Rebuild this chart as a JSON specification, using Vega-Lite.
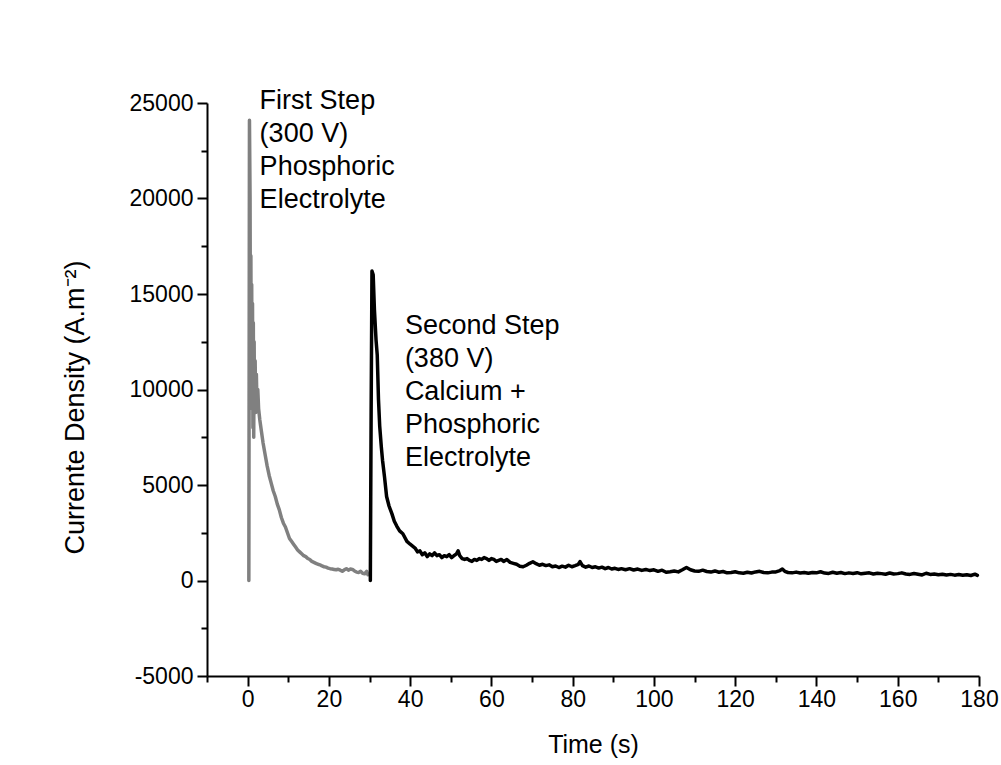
{
  "$schema": "https://vega.github.io/schema/vega-lite/v6.json",
  "autosize": "none",
  "width": 772,
  "height": 573,
  "padding": {"left": 207, "top": 103, "right": 22, "bottom": 89},
  "background": "white",
  "config": {
    "view": {"stroke": null},
    "font": "Liberation Sans",
    "axis": {
      "grid": false,
      "domainColor": "black",
      "domainWidth": 2,
      "tickColor": "black",
      "tickWidth": 2,
      "labelColor": "black",
      "labelFont": "Liberation Sans",
      "titleFont": "Liberation Sans",
      "titleColor": "black",
      "titleFontWeight": "normal"
    }
  },
  "datasets": {
    "curves": [
      {"t": 0.3, "j": 0, "step": "first"},
      {"t": 0.45, "j": 24100, "step": "first"},
      {"t": 0.6, "j": 20000, "step": "first"},
      {"t": 0.7, "j": 12000, "step": "first"},
      {"t": 0.8, "j": 17000, "step": "first"},
      {"t": 0.9, "j": 10500, "step": "first"},
      {"t": 1.0, "j": 15500, "step": "first"},
      {"t": 1.1, "j": 9000, "step": "first"},
      {"t": 1.2, "j": 14500, "step": "first"},
      {"t": 1.3, "j": 8000, "step": "first"},
      {"t": 1.4, "j": 13500, "step": "first"},
      {"t": 1.5, "j": 7500, "step": "first"},
      {"t": 1.6, "j": 12500, "step": "first"},
      {"t": 1.7, "j": 9000, "step": "first"},
      {"t": 1.85, "j": 11500, "step": "first"},
      {"t": 2.0, "j": 8800, "step": "first"},
      {"t": 2.15, "j": 10800, "step": "first"},
      {"t": 2.3, "j": 9200, "step": "first"},
      {"t": 2.5, "j": 10000, "step": "first"},
      {"t": 2.7, "j": 9000, "step": "first"},
      {"t": 3.0, "j": 8400, "step": "first"},
      {"t": 3.4, "j": 7800, "step": "first"},
      {"t": 3.8, "j": 7200, "step": "first"},
      {"t": 4.3, "j": 6600, "step": "first"},
      {"t": 4.8, "j": 6000, "step": "first"},
      {"t": 5.3, "j": 5500, "step": "first"},
      {"t": 5.8, "j": 5100, "step": "first"},
      {"t": 6.3, "j": 4700, "step": "first"},
      {"t": 6.8, "j": 4400, "step": "first"},
      {"t": 7.3, "j": 4000, "step": "first"},
      {"t": 7.8, "j": 3700, "step": "first"},
      {"t": 8.3, "j": 3300, "step": "first"},
      {"t": 8.8, "j": 3000, "step": "first"},
      {"t": 9.3, "j": 2800, "step": "first"},
      {"t": 9.8, "j": 2500, "step": "first"},
      {"t": 10.3, "j": 2200, "step": "first"},
      {"t": 10.8, "j": 2050, "step": "first"},
      {"t": 11.3, "j": 1900, "step": "first"},
      {"t": 11.8, "j": 1750, "step": "first"},
      {"t": 12.3, "j": 1600, "step": "first"},
      {"t": 12.8, "j": 1500, "step": "first"},
      {"t": 13.3, "j": 1400, "step": "first"},
      {"t": 13.8, "j": 1300, "step": "first"},
      {"t": 14.3, "j": 1250, "step": "first"},
      {"t": 14.8, "j": 1150, "step": "first"},
      {"t": 15.3, "j": 1100, "step": "first"},
      {"t": 15.8, "j": 1000, "step": "first"},
      {"t": 16.3, "j": 950, "step": "first"},
      {"t": 16.8, "j": 900, "step": "first"},
      {"t": 17.3, "j": 850, "step": "first"},
      {"t": 17.8, "j": 820, "step": "first"},
      {"t": 18.3, "j": 760, "step": "first"},
      {"t": 18.8, "j": 720, "step": "first"},
      {"t": 19.3, "j": 700, "step": "first"},
      {"t": 19.8, "j": 650, "step": "first"},
      {"t": 20.3, "j": 620, "step": "first"},
      {"t": 20.8, "j": 600, "step": "first"},
      {"t": 21.3, "j": 580, "step": "first"},
      {"t": 21.8, "j": 560, "step": "first"},
      {"t": 22.3, "j": 590, "step": "first"},
      {"t": 22.8, "j": 540, "step": "first"},
      {"t": 23.3, "j": 480, "step": "first"},
      {"t": 23.8, "j": 560, "step": "first"},
      {"t": 24.3, "j": 620, "step": "first"},
      {"t": 24.8, "j": 540, "step": "first"},
      {"t": 25.3, "j": 600, "step": "first"},
      {"t": 25.8, "j": 580, "step": "first"},
      {"t": 26.3, "j": 500, "step": "first"},
      {"t": 26.8, "j": 440, "step": "first"},
      {"t": 27.3, "j": 420, "step": "first"},
      {"t": 27.8, "j": 480, "step": "first"},
      {"t": 28.3, "j": 380, "step": "first"},
      {"t": 28.8, "j": 350, "step": "first"},
      {"t": 29.3, "j": 480, "step": "first"},
      {"t": 29.6, "j": 300, "step": "first"},
      {"t": 30.2, "j": 0, "step": "second"},
      {"t": 30.4, "j": 9000, "step": "second"},
      {"t": 30.6, "j": 16200, "step": "second"},
      {"t": 30.9, "j": 16000, "step": "second"},
      {"t": 31.2, "j": 14200, "step": "second"},
      {"t": 31.6, "j": 12600, "step": "second"},
      {"t": 31.9, "j": 11800, "step": "second"},
      {"t": 32.2, "j": 9500, "step": "second"},
      {"t": 32.5, "j": 8100, "step": "second"},
      {"t": 32.9, "j": 7000, "step": "second"},
      {"t": 33.2, "j": 6300, "step": "second"},
      {"t": 33.7, "j": 5400, "step": "second"},
      {"t": 34.2, "j": 4400, "step": "second"},
      {"t": 34.8, "j": 3900, "step": "second"},
      {"t": 35.5, "j": 3500, "step": "second"},
      {"t": 36.1, "j": 3100, "step": "second"},
      {"t": 36.7, "j": 2850, "step": "second"},
      {"t": 37.4, "j": 2600, "step": "second"},
      {"t": 38.2, "j": 2450, "step": "second"},
      {"t": 39.2, "j": 2050, "step": "second"},
      {"t": 40.0, "j": 1900, "step": "second"},
      {"t": 40.6, "j": 1800, "step": "second"},
      {"t": 41.2, "j": 1700, "step": "second"},
      {"t": 41.8, "j": 1500, "step": "second"},
      {"t": 42.4, "j": 1550, "step": "second"},
      {"t": 43.0, "j": 1350, "step": "second"},
      {"t": 43.6, "j": 1450, "step": "second"},
      {"t": 44.2, "j": 1250, "step": "second"},
      {"t": 44.8, "j": 1400, "step": "second"},
      {"t": 45.4, "j": 1300, "step": "second"},
      {"t": 46.0, "j": 1450, "step": "second"},
      {"t": 46.6, "j": 1300, "step": "second"},
      {"t": 47.2, "j": 1350, "step": "second"},
      {"t": 47.8, "j": 1200, "step": "second"},
      {"t": 48.4, "j": 1300, "step": "second"},
      {"t": 49.0, "j": 1250, "step": "second"},
      {"t": 49.6, "j": 1350, "step": "second"},
      {"t": 50.2, "j": 1200, "step": "second"},
      {"t": 50.8, "j": 1300, "step": "second"},
      {"t": 51.4, "j": 1400, "step": "second"},
      {"t": 51.8, "j": 1550, "step": "second"},
      {"t": 52.2, "j": 1300, "step": "second"},
      {"t": 52.8, "j": 1150, "step": "second"},
      {"t": 53.4, "j": 1100, "step": "second"},
      {"t": 54.0, "j": 1150, "step": "second"},
      {"t": 54.6, "j": 1050, "step": "second"},
      {"t": 55.2, "j": 1000, "step": "second"},
      {"t": 55.8, "j": 1100, "step": "second"},
      {"t": 56.4, "j": 1050, "step": "second"},
      {"t": 57.0, "j": 1150, "step": "second"},
      {"t": 57.6, "j": 1100, "step": "second"},
      {"t": 58.2, "j": 1200, "step": "second"},
      {"t": 58.8, "j": 1150, "step": "second"},
      {"t": 59.4, "j": 1050, "step": "second"},
      {"t": 60.0, "j": 1150, "step": "second"},
      {"t": 60.6, "j": 1100, "step": "second"},
      {"t": 61.2, "j": 1000, "step": "second"},
      {"t": 61.8, "j": 1050, "step": "second"},
      {"t": 62.4, "j": 1100, "step": "second"},
      {"t": 63.0, "j": 1000, "step": "second"},
      {"t": 63.8, "j": 1100, "step": "second"},
      {"t": 64.6, "j": 950, "step": "second"},
      {"t": 65.4, "j": 900, "step": "second"},
      {"t": 66.2, "j": 850, "step": "second"},
      {"t": 67.0, "j": 750, "step": "second"},
      {"t": 67.8, "j": 720, "step": "second"},
      {"t": 68.6, "j": 800, "step": "second"},
      {"t": 69.4, "j": 900, "step": "second"},
      {"t": 70.2, "j": 980, "step": "second"},
      {"t": 71.0, "j": 880, "step": "second"},
      {"t": 71.8, "j": 800, "step": "second"},
      {"t": 72.6, "j": 850, "step": "second"},
      {"t": 73.4, "j": 780, "step": "second"},
      {"t": 74.2, "j": 820, "step": "second"},
      {"t": 75.0, "j": 720, "step": "second"},
      {"t": 75.8, "j": 760, "step": "second"},
      {"t": 76.6, "j": 680, "step": "second"},
      {"t": 77.4, "j": 750, "step": "second"},
      {"t": 78.2, "j": 700, "step": "second"},
      {"t": 79.0, "j": 800, "step": "second"},
      {"t": 79.8, "j": 720, "step": "second"},
      {"t": 80.6, "j": 780, "step": "second"},
      {"t": 81.4, "j": 850, "step": "second"},
      {"t": 81.8, "j": 990, "step": "second"},
      {"t": 82.4, "j": 780, "step": "second"},
      {"t": 83.2, "j": 700, "step": "second"},
      {"t": 84.0, "j": 760, "step": "second"},
      {"t": 84.8, "j": 680, "step": "second"},
      {"t": 85.6, "j": 720, "step": "second"},
      {"t": 86.4, "j": 650, "step": "second"},
      {"t": 87.2, "j": 700, "step": "second"},
      {"t": 88.0, "j": 620, "step": "second"},
      {"t": 88.8, "j": 680, "step": "second"},
      {"t": 89.6, "j": 600, "step": "second"},
      {"t": 90.4, "j": 640, "step": "second"},
      {"t": 91.2, "j": 580, "step": "second"},
      {"t": 92.0, "j": 620, "step": "second"},
      {"t": 93.0, "j": 560, "step": "second"},
      {"t": 94.0, "j": 620, "step": "second"},
      {"t": 95.0, "j": 550, "step": "second"},
      {"t": 96.0, "j": 600, "step": "second"},
      {"t": 97.0, "j": 530, "step": "second"},
      {"t": 98.0, "j": 580, "step": "second"},
      {"t": 99.0, "j": 520, "step": "second"},
      {"t": 100.0, "j": 560, "step": "second"},
      {"t": 101.0, "j": 480, "step": "second"},
      {"t": 102.0, "j": 540, "step": "second"},
      {"t": 103.0, "j": 430, "step": "second"},
      {"t": 104.0, "j": 460, "step": "second"},
      {"t": 105.0, "j": 500, "step": "second"},
      {"t": 106.0, "j": 450, "step": "second"},
      {"t": 107.0, "j": 560, "step": "second"},
      {"t": 108.0, "j": 680, "step": "second"},
      {"t": 109.0, "j": 560, "step": "second"},
      {"t": 110.0, "j": 500, "step": "second"},
      {"t": 111.0, "j": 480, "step": "second"},
      {"t": 112.0, "j": 540, "step": "second"},
      {"t": 113.0, "j": 470, "step": "second"},
      {"t": 114.0, "j": 440, "step": "second"},
      {"t": 115.0, "j": 500, "step": "second"},
      {"t": 116.0, "j": 430, "step": "second"},
      {"t": 117.0, "j": 470, "step": "second"},
      {"t": 118.0, "j": 400, "step": "second"},
      {"t": 119.0, "j": 420, "step": "second"},
      {"t": 120.0, "j": 460, "step": "second"},
      {"t": 121.0, "j": 400, "step": "second"},
      {"t": 122.0, "j": 380, "step": "second"},
      {"t": 123.0, "j": 430, "step": "second"},
      {"t": 124.0, "j": 390, "step": "second"},
      {"t": 125.0, "j": 450, "step": "second"},
      {"t": 126.0, "j": 480, "step": "second"},
      {"t": 127.0, "j": 420, "step": "second"},
      {"t": 128.0, "j": 400, "step": "second"},
      {"t": 129.0, "j": 440, "step": "second"},
      {"t": 130.0, "j": 450, "step": "second"},
      {"t": 131.0, "j": 520, "step": "second"},
      {"t": 131.6, "j": 600, "step": "second"},
      {"t": 132.2, "j": 480, "step": "second"},
      {"t": 133.0, "j": 420, "step": "second"},
      {"t": 134.0, "j": 400, "step": "second"},
      {"t": 135.0, "j": 440, "step": "second"},
      {"t": 136.0, "j": 390, "step": "second"},
      {"t": 137.0, "j": 420, "step": "second"},
      {"t": 138.0, "j": 380, "step": "second"},
      {"t": 139.0, "j": 420, "step": "second"},
      {"t": 140.0, "j": 400, "step": "second"},
      {"t": 141.0, "j": 460, "step": "second"},
      {"t": 142.0, "j": 390, "step": "second"},
      {"t": 143.0, "j": 370, "step": "second"},
      {"t": 144.0, "j": 430, "step": "second"},
      {"t": 145.0, "j": 380, "step": "second"},
      {"t": 146.0, "j": 420, "step": "second"},
      {"t": 147.0, "j": 360, "step": "second"},
      {"t": 148.0, "j": 400, "step": "second"},
      {"t": 149.0, "j": 370, "step": "second"},
      {"t": 150.0, "j": 410, "step": "second"},
      {"t": 151.0, "j": 350, "step": "second"},
      {"t": 152.0, "j": 380, "step": "second"},
      {"t": 153.0, "j": 400, "step": "second"},
      {"t": 154.0, "j": 340, "step": "second"},
      {"t": 155.0, "j": 380, "step": "second"},
      {"t": 156.0, "j": 360, "step": "second"},
      {"t": 157.0, "j": 330, "step": "second"},
      {"t": 158.0, "j": 390, "step": "second"},
      {"t": 159.0, "j": 340, "step": "second"},
      {"t": 160.0, "j": 360, "step": "second"},
      {"t": 161.0, "j": 400, "step": "second"},
      {"t": 162.0, "j": 340, "step": "second"},
      {"t": 163.0, "j": 320, "step": "second"},
      {"t": 164.0, "j": 370, "step": "second"},
      {"t": 165.0, "j": 330, "step": "second"},
      {"t": 166.0, "j": 290, "step": "second"},
      {"t": 167.0, "j": 380, "step": "second"},
      {"t": 168.0, "j": 320, "step": "second"},
      {"t": 169.0, "j": 340, "step": "second"},
      {"t": 170.0, "j": 300, "step": "second"},
      {"t": 171.0, "j": 330, "step": "second"},
      {"t": 172.0, "j": 290, "step": "second"},
      {"t": 173.0, "j": 320, "step": "second"},
      {"t": 174.0, "j": 280, "step": "second"},
      {"t": 175.0, "j": 310, "step": "second"},
      {"t": 176.0, "j": 270, "step": "second"},
      {"t": 177.0, "j": 300, "step": "second"},
      {"t": 178.0, "j": 260, "step": "second"},
      {"t": 179.0, "j": 330, "step": "second"},
      {"t": 179.6, "j": 270, "step": "second"}
    ],
    "notes": [
      {"t": 2.95, "j": 24700, "label": "First Step\n(300 V)\nPhosphoric\nElectrolyte"},
      {"t": 38.7, "j": 12900, "label": "Second Step\n(380 V)\nCalcium +\nPhosphoric\nElectrolyte"}
    ]
  },
  "resolve": {"axis": {"x": "independent", "y": "independent"}},
  "layer": [
    {
      "data": {"name": "curves"},
      "mark": {"type": "line", "strokeWidth": 3.5, "strokeJoin": "round", "strokeCap": "round"},
      "encoding": {
        "x": {
          "field": "t", "type": "quantitative",
          "scale": {"domain": [-10, 180], "nice": false, "zero": false},
          "axis": {
            "orient": "bottom",
            "title": "Time (s)",
            "values": [0, 20, 40, 60, 80, 100, 120, 140, 160, 180],
            "labelExpr": "'' + datum.value",
            "tickSize": 10,
            "labelFontSize": 23,
            "labelPadding": 2,
            "labelFlush": false,
            "titleFontSize": 25,
            "titlePadding": 21
          }
        },
        "y": {
          "field": "j", "type": "quantitative",
          "scale": {"domain": [-5000, 25000], "nice": false, "zero": false},
          "axis": {
            "orient": "left",
            "title": "Currente Density (A.m⁻²)",
            "values": [-5000, 0, 5000, 10000, 15000, 20000, 25000],
            "labelExpr": "'' + datum.value",
            "tickSize": 10,
            "labelFontSize": 23,
            "labelPadding": 4,
            "labelFlush": false,
            "titleFontSize": 27,
            "titleX": -124,
            "titleY": 304,
            "titleBaseline": "alphabetic"
          }
        },
        "color": {
          "field": "step", "type": "nominal",
          "scale": {"domain": ["first", "second"], "range": ["#808080", "#000000"]},
          "legend": null
        }
      }
    },
    {
      "data": {"name": "notes"},
      "mark": {"type": "text", "align": "left", "baseline": "alphabetic", "lineBreak": "\n", "lineHeight": 33, "fontSize": 27, "font": "Liberation Sans", "color": "black"},
      "encoding": {
        "x": {
          "field": "t", "type": "quantitative",
          "axis": {
            "orient": "bottom", "title": null, "labels": false, "domain": false,
            "values": [-10, 10, 30, 50, 70, 90, 110, 130, 150, 170],
            "tickSize": 6
          }
        },
        "y": {
          "field": "j", "type": "quantitative",
          "axis": {
            "orient": "left", "title": null, "labels": false, "domain": false,
            "values": [-2500, 2500, 7500, 12500, 17500, 22500],
            "tickSize": 6
          }
        },
        "text": {"field": "label"}
      }
    }
  ]
}
